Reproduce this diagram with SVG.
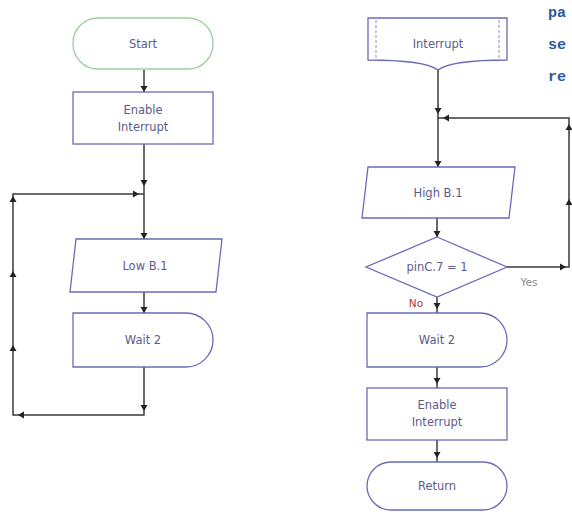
<svg xmlns="http://www.w3.org/2000/svg" xmlns:xlink="http://www.w3.org/1999/xlink" width="572" height="515" viewBox="0 0 572 515">
<style>
.n{fill:#fff;stroke:#6a6ab8;stroke-width:1.3}
.st{fill:#fff;stroke:#9ccf9c;stroke-width:1.3}
.t{font-family:"DejaVu Sans",Verdana,sans-serif;font-size:11.5px;fill:#5c5c8c;text-anchor:middle}
.c{fill:none;stroke:#3a3a3a;stroke-width:1.5}
.ah{fill:#222}
.code{font-family:"Liberation Mono","Courier New",monospace;font-weight:bold;font-size:15px;fill:#2b5a98}
</style>
<defs>
<path id="a" class="ah" d="M0,0 L-3.5,-6 L3.5,-6 Z"/>
</defs>
<rect width="572" height="515" fill="#fff"/>
<g id="connectors">
<path class="c" d="M144,70 V92"/>
<path class="c" d="M144,144 V239"/>
<path class="c" d="M144,292 V313"/>
<path class="c" d="M144,367 V415 H13 V194 H144"/>
<use xlink:href="#a" transform="translate(144,92)"/>
<use xlink:href="#a" transform="translate(144,186)"/>
<use xlink:href="#a" transform="translate(144,239)"/>
<use xlink:href="#a" transform="translate(144,313)"/>
<use xlink:href="#a" transform="translate(144,411)"/>
<use xlink:href="#a" transform="translate(18,415) rotate(90)"/>
<use xlink:href="#a" transform="translate(13,345) rotate(180)"/>
<use xlink:href="#a" transform="translate(13,271) rotate(180)"/>
<use xlink:href="#a" transform="translate(13,196) rotate(180)"/>
<use xlink:href="#a" transform="translate(139,194) rotate(-90)"/>
<path class="c" d="M438,70 V167"/>
<path class="c" d="M507,267 H569 V118 H438"/>
<path class="c" d="M437,218 V237"/>
<path class="c" d="M437,297 V313"/>
<path class="c" d="M437,367 V388"/>
<path class="c" d="M437,440 V462"/>
<use xlink:href="#a" transform="translate(438,114)"/>
<use xlink:href="#a" transform="translate(443,118) rotate(90)"/>
<use xlink:href="#a" transform="translate(438,167)"/>
<use xlink:href="#a" transform="translate(437,237)"/>
<use xlink:href="#a" transform="translate(437,309)"/>
<use xlink:href="#a" transform="translate(437,384)"/>
<use xlink:href="#a" transform="translate(437,458)"/>
<use xlink:href="#a" transform="translate(566,267) rotate(-90)"/>
<use xlink:href="#a" transform="translate(569,199) rotate(180)"/>
<use xlink:href="#a" transform="translate(569,124) rotate(180)"/>
<text x="529" y="286" class="t" style="fill:#8a8a8a;font-size:10.5px">Yes</text>
<text x="416" y="307" class="t" style="fill:#b03030;font-size:10.5px">No</text>
</g>
<g id="start"><rect class="st" x="73" y="18" width="140" height="51" rx="25"/><text x="143" y="48" class="t">Start</text></g>
<g id="enable1"><rect class="n" x="73" y="92" width="140" height="52"/><text x="143" y="114" class="t">Enable</text><text x="143" y="131" class="t">Interrupt</text></g>
<g id="low"><path class="n" d="M76,239 H222 L216,292 H70 Z"/><text x="145" y="270" class="t">Low B.1</text></g>
<g id="wait1"><path class="n" d="M73,313 H186 A27,27 0 0 1 186,367 H73 Z"/><text x="143" y="344" class="t">Wait 2</text></g>
<g id="interrupt"><path class="n" d="M368,18 H507 V60 C490,60 450,61 438,70 C426,61 386,60 368,60 Z"/><path d="M376,20 V58 M499,20 V58" stroke="#8a8ac8" stroke-width="1" stroke-dasharray="3,2" fill="none"/><text x="438" y="48" class="t">Interrupt</text></g>
<g id="high"><path class="n" d="M368,167 H515 L509,218 H362 Z"/><text x="438" y="197" class="t">High B.1</text></g>
<g id="decision"><path class="n" d="M437,237 L507,267 L437,297 L366,267 Z"/><text x="437" y="271" class="t">pinC.7 = 1</text></g>
<g id="wait2"><path class="n" d="M367,313 H480 A27,27 0 0 1 480,367 H367 Z"/><text x="437" y="344" class="t">Wait 2</text></g>
<g id="enable2"><rect class="n" x="367" y="388" width="140" height="52"/><text x="437" y="409" class="t">Enable</text><text x="437" y="426" class="t">Interrupt</text></g>
<g id="return"><rect class="n" x="367" y="462" width="140" height="48" rx="24"/><text x="437" y="490" class="t">Return</text></g>
<g id="code"><text x="548" y="17" class="code">pa</text><text x="548" y="49" class="code">se</text><text x="548" y="81" class="code">re</text></g>
</svg>
